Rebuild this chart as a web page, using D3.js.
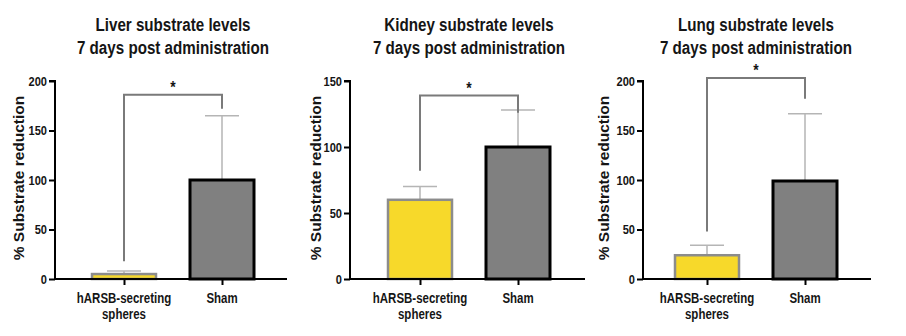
<!DOCTYPE html>
<html>
<head>
<meta charset="utf-8">
<script src="https://cdn.jsdelivr.net/npm/d3@7"></script>
<style>
  html, body { margin: 0; padding: 0; background: #fff; }
  svg { display: block; }
  text { font-family: "Liberation Sans", Arial, sans-serif; font-weight: bold; fill: #151515; }
</style>
</head>
<body>
<svg id="chart" width="906" height="336"></svg>
<script>
// ---- Data ----
const categories = ["hARSB-secreting spheres", "Sham"];
const organs = ["Liver", "Kidney", "Lung"];
const titleLine2 = "7 days post administration";
const yLabel = "% Substrate reduction";

const liverMeans = [5, 100];
const liverErrTop = [8, 165];
const kidneyMeans = [60, 100];
const kidneyErrTop = [70, 128];
const lungMeans = [24, 99];
const lungErrTop = [34, 167];

const liverTicks = [0, 50, 100, 150, 200];
const kidneyTicks = [0, 50, 100, 150];
const lungTicks = [0, 50, 100, 150, 200];

// significance brackets: [bracket level, left leg end, right leg end]
const liverSig = [186, 18, 172];
const kidneySig = [139, 82, 126];
const lungSig = [203, 48, 182];
const sigLabel = "*";

const meansAll = [liverMeans, kidneyMeans, lungMeans];
const errAll = [liverErrTop, kidneyErrTop, lungErrTop];
const ticksAll = [liverTicks, kidneyTicks, lungTicks];
const sigAll = [liverSig, kidneySig, lungSig];

// ---- Layout (positions only) ----
const layout = [
  { axisX: 55, axisEnd: 287, c0: 69, c1: 167, ylab: 24 },
  { axisX: 350, axisEnd: 585, c0: 70, c1: 168, ylab: 321 },
  { axisX: 643, axisEnd: 871, c0: 64, c1: 162, ylab: 609 }
];
const yTop = 81, yBottom = 279;
const barW = 64;
const NARROW = 0.82;
const fills = ["#F7D92A", "#808080"];
const strokes = ["#8c8c8c", "#000000"];
const strokeW = [2.5, 3];

const svg = d3.select("#chart");

function narrowText(parent, x, y, str, size, anchor) {
  return parent.append("text")
    .attr("transform", `translate(${x},${y}) scale(${NARROW},1)`)
    .attr("text-anchor", anchor || "middle")
    .attr("font-size", size)
    .text(str);
}

organs.forEach((organ, i) => {
  const L = layout[i];
  const ticks = ticksAll[i];
  const y = d3.scaleLinear().domain([0, d3.max(ticks)]).range([yBottom, yTop]);
  const x = d3.scalePoint().domain(categories).range([L.axisX + L.c0, L.axisX + L.c1]);
  const g = svg.append("g");
  const means = meansAll[i], errs = errAll[i], sig = sigAll[i];

  // title
  const tcx = (x(categories[0]) + x(categories[1])) / 2;
  narrowText(g, tcx, 31, organ + " substrate levels", 18.5);
  narrowText(g, tcx, 54, titleLine2, 18.5);

  // error bars (behind bars)
  categories.forEach((c, k) => {
    g.append("line").attr("x1", x(c)).attr("x2", x(c))
      .attr("y1", y(means[k])).attr("y2", y(errs[k]))
      .attr("stroke", "#b5b5b5").attr("stroke-width", 1.5);
    g.append("line").attr("x1", x(c) - 17).attr("x2", x(c) + 17)
      .attr("y1", y(errs[k])).attr("y2", y(errs[k]))
      .attr("stroke", "#b5b5b5").attr("stroke-width", 1.5);
  });

  // bars
  g.selectAll("rect.bar").data(categories).join("rect").attr("class", "bar")
    .attr("x", c => x(c) - barW / 2)
    .attr("width", barW)
    .attr("y", (c, k) => y(means[k]))
    .attr("height", (c, k) => y(0) - y(means[k]))
    .attr("fill", (c, k) => fills[k])
    .attr("stroke", (c, k) => strokes[k])
    .attr("stroke-width", (c, k) => strokeW[k]);

  // y axis
  const yAxis = d3.axisLeft(y).tickValues(ticks).tickSize(6).tickPadding(3).tickFormat(d3.format("d"));
  const ya = g.append("g").attr("transform", `translate(${L.axisX},0)`).call(yAxis);
  ya.attr("font-family", null).attr("font-size", null);
  ya.select(".domain").attr("stroke", "#000").attr("stroke-width", 2).attr("d", `M-6,${yTop}H0V${yBottom}`);
  ya.selectAll(".tick line").attr("stroke", "#000").attr("stroke-width", 2);
  ya.selectAll(".tick text")
    .attr("font-size", 13.5)
    .attr("x", -8 / NARROW)
    .attr("transform", `scale(${NARROW},1)`);

  // x axis
  const xAxis = d3.axisBottom(x).tickSize(6).tickFormat("");
  const xa = g.append("g").attr("transform", `translate(0,${yBottom})`).call(xAxis);
  xa.select(".domain").attr("stroke", "#000").attr("stroke-width", 2).attr("d", `M${L.axisX},0H${L.axisEnd}`);
  xa.selectAll(".tick line").attr("stroke", "#000").attr("stroke-width", 2);

  // x labels (wrapped)
  categories.forEach(c => {
    c.split(" ").forEach((w, j) => narrowText(g, x(c), 303 + j * 16, w, 14));
  });

  // y label
  g.append("text").attr("font-size", 15.5)
    .attr("text-anchor", "middle")
    .attr("transform", `translate(${L.ylab},178) rotate(-90)`)
    .text(yLabel);

  // significance bracket
  const x0 = x(categories[0]), x1 = x(categories[1]);
  g.append("path")
    .attr("d", `M${x0},${y(sig[1])}V${y(sig[0])}H${x1}V${y(sig[2])}`)
    .attr("fill", "none").attr("stroke", "#7a7a7a").attr("stroke-width", 2);
  narrowText(g, (x0 + x1) / 2, y(sig[0]) - 2, sigLabel, 17);
});
</script>
</body>
</html>
